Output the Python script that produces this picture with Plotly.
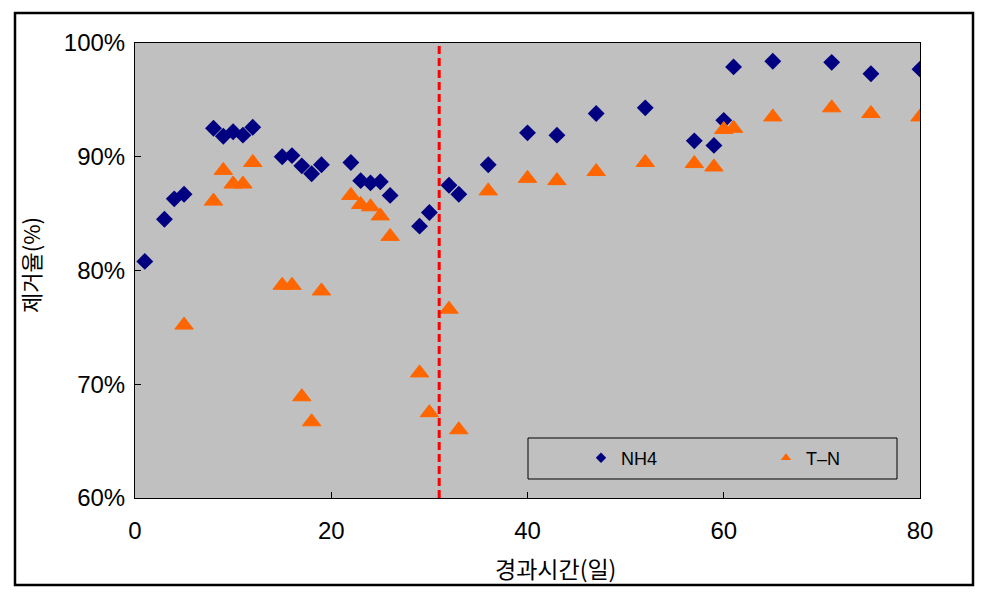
import plotly.graph_objects as go

# elapsed days and removal rates (%)
nh4_day = [1, 3, 4, 5, 8, 9, 10, 11, 12, 15, 16, 17, 18, 19, 22, 23, 24, 25, 26,
           29, 30, 32, 33, 36, 40, 43, 47, 52, 57, 59, 60, 61, 65, 71, 75, 80]
nh4_rate = [80.8, 84.5, 86.3, 86.7, 92.5, 91.8, 92.2, 91.9, 92.6, 90.0, 90.1, 89.2, 88.5, 89.3, 89.5,
            87.9, 87.7, 87.8, 86.6, 83.9, 85.1, 87.5, 86.7, 89.3, 92.1, 91.9, 93.8, 94.3, 91.4, 91.0,
            93.2, 97.9, 98.4, 98.3, 97.3, 97.7]

tn_day = [5, 8, 9, 10, 11, 12, 15, 16, 17, 18, 19, 22, 23, 24, 25, 26, 29, 30, 32, 33,
          36, 40, 43, 47, 52, 57, 59, 60, 61, 65, 71, 75, 80]
tn_rate = [75.2, 86.1, 88.8, 87.6, 87.6, 89.5, 78.7, 78.7, 68.9, 66.7, 78.2, 86.6, 85.8, 85.6, 84.8,
           83.0, 71.0, 67.5, 76.6, 66.0, 87.0, 88.1, 87.9, 88.7, 89.5, 89.4, 89.1, 92.4, 92.5, 93.5,
           94.3, 93.8, 93.5]

change_day = 31

font = "Liberation Sans, Arial, Noto Sans CJK KR"
korean = "Noto Sans CJK KR, Liberation Sans"

# plot area on the page: x 135..920, y 43..498 (page body adds an 8px margin)
def px_x(p):
    return (p - 135) / 785

def px_y(p):
    return (498 - p) / 455

fig = go.Figure()
fig.add_trace(go.Scatter(x=nh4_day, y=[v / 100 for v in nh4_rate], mode="markers",
                         marker=dict(symbol="diamond", size=13, color="#000080"),
                         name="NH4", showlegend=False))
fig.add_trace(go.Scatter(x=tn_day, y=[v / 100 for v in tn_rate], mode="markers",
                         marker=dict(symbol="triangle-up", size=16, color="#FF6600",
                                     line=dict(color="#FF6600", width=1)),
                         name="T-N", showlegend=False))
# small legend markers like excel, one legend each so they sit apart
fig.add_trace(go.Scatter(x=[None], y=[None], mode="markers", name="NH4", legend="legend",
                         marker=dict(symbol="diamond", size=8, color="#000080")))
fig.add_trace(go.Scatter(x=[None], y=[None], mode="markers", name="T\u2013N", legend="legend2",
                         marker=dict(symbol="triangle-up", size=9, color="#FF6600")))

fig.add_shape(type="line", x0=change_day, x1=change_day, y0=0.6, y1=1.0, xref="x", yref="y",
              line=dict(color="#FF0000", width=3, dash="8px,4px"))
# legend box
fig.add_shape(type="rect", xref="paper", yref="paper",
              x0=px_x(528), x1=px_x(897), y0=px_y(479), y1=px_y(438),
              line=dict(color="black", width=1))
# outer chart frame
fig.add_shape(type="rect", xref="paper", yref="paper",
              x0=px_x(15), x1=px_x(973), y0=px_y(585), y1=px_y(13),
              line=dict(color="black", width=2.5))

fig.add_annotation(text="경과시간(일)", xref="paper", yref="paper",
                   x=px_x(555), y=px_y(568), xanchor="center", yanchor="middle",
                   showarrow=False, font=dict(family=korean, size=23, color="black"))
fig.add_annotation(text="제거율(%)", xref="paper", yref="paper", textangle=-90,
                   x=px_x(30), y=px_y(265), xanchor="center", yanchor="middle",
                   showarrow=False, font=dict(family=korean, size=22, color="black"))

fig.update_xaxes(range=[0, 80], dtick=20, ticks="inside", ticklen=6, tickcolor="black",
                 showline=True, linecolor="black", linewidth=1, mirror=True,
                 showgrid=False, zeroline=False, ticklabelstandoff=11, automargin=False,
                 tickfont=dict(family=font, size=24, color="black"))
fig.update_yaxes(range=[0.6, 1.0], dtick=0.1, tickformat=".0%", ticks="inside", ticklen=6,
                 tickcolor="black", showline=True, linecolor="black", linewidth=1, mirror=True,
                 showgrid=False, zeroline=False, ticklabelstandoff=4, automargin=False,
                 tickfont=dict(family=font, size=24, color="black"))

leg = dict(xanchor="left", yanchor="middle", y=px_y(458), bgcolor="rgba(0,0,0,0)",
           font=dict(family=font, size=18, color="black"))
fig.update_layout(
    width=978, height=590,
    margin=dict(l=127, r=66, t=35, b=100),
    paper_bgcolor="white", plot_bgcolor="#C0C0C0",
    legend=dict(x=px_x(581), **leg),
    legend2=dict(x=px_x(766), **leg),
)

fig.write_html("out.html")
